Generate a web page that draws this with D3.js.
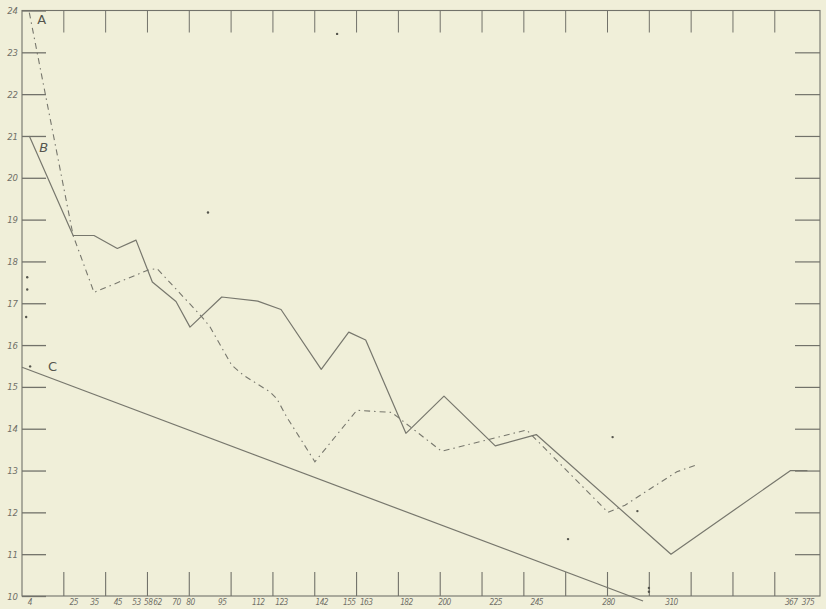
<!DOCTYPE html>
<html>
<head>
<meta charset="utf-8">
<script src="https://cdn.jsdelivr.net/npm/d3@7"></script>
<style>
  html, body { margin: 0; padding: 0; background: #f0efd9; }
  svg { display: block; }
  .tick text { font-family: "DejaVu Sans Condensed", "DejaVu Sans", sans-serif; font-style: italic; fill: #707068; }
</style>
</head>
<body>
<svg id="chart" width="826" height="609"></svg>
<script>
// ---- data ----
const yTickValues = [10, 11, 12, 13, 14, 15, 16, 17, 18, 19, 20, 21, 22, 23, 24];
const xTickValues = [4, 25, 35, 45, 53, 58, 62, 70, 80, 95, 112, 123, 142, 155, 163, 182, 200, 225, 245, 280, 310, 367, 375];
const xTickLabels = ["4", "25", "35", "45", "53", "58", "62", "70", "80", "95", "112", "123", "142", "155", "163", "182", "200", "225", "245", "280", "310", "367", "375"];

// curve B (solid)
const seriesBX = [4, 25, 35, 45, 53, 60, 70, 80, 95, 112, 123, 142, 155, 163, 182, 200, 225, 245, 310, 367, 375];
const seriesBY = [21.0, 18.62, 18.62, 18.31, 18.51, 17.51, 17.04, 16.43, 17.15, 17.05, 16.85, 15.42, 16.31, 16.12, 13.89, 14.78, 13.59, 13.86, 11.0, 13.0, 13.0];

// curve A (dash-dot)
const seriesAX = [4, 25, 35, 58, 62, 63.3, 85.5, 89.4, 99.7, 105.2, 117.8, 121, 125.7, 139, 158.8, 175.3, 198.9, 240.3, 249.2, 280, 288.1, 300, 312.8, 323.1];
const seriesAY = [23.95, 18.62, 17.26, 17.79, 17.83, 17.75, 16.68, 16.44, 15.52, 15.28, 14.88, 14.72, 14.28, 13.21, 14.44, 14.39, 13.46, 13.97, 13.53, 12.0, 12.17, 12.56, 12.97, 13.15];

// straight line C
const seriesCX = [0.5, 296.7];
const seriesCY = [15.47, 9.88];

// loose specks on the sheet
const speckX = [88.5, 3.0, 3.0, 2.5, 4.4, 260.5, 149.5, 299.5, 299.5, 282.2, 294];
const speckY = [19.17, 17.62, 17.33, 16.67, 15.49, 11.36, 23.44, 10.19, 10.1, 13.8, 12.03];

// ---- scales ----
const svg = d3.select("#chart");
const x = d3.scaleLinear()
  .domain([0.5, 35, 62, 70, 80, 200, 280, 381])
  .range([22, 94, 157, 176, 190, 444, 608, 820]);
const y = d3.scaleLinear().domain([10, 24]).range([596, 10.5]);

const ink = "#77776d";
const frameInk = "#72726a";

const x0 = x.range()[0], x1 = x.range()[x.range().length - 1];
const yTop = y(24), yBot = y(10);
const cell = y(10) - y(11);

// frame
svg.append("rect")
  .attr("x", x0).attr("y", yTop)
  .attr("width", x1 - x0).attr("height", yBot - yTop)
  .attr("fill", "none").attr("stroke", frameInk).attr("stroke-width", 1.1);

// paper grid tick marks along top and bottom edges
const gridX = d3.range(1, 19).map(i => x0 + i * cell);
svg.append("g").selectAll("line").data(gridX).join("line")
  .attr("x1", d => d).attr("x2", d => d)
  .attr("y1", yTop).attr("y2", yTop + 22)
  .attr("stroke", frameInk).attr("stroke-width", 1);
svg.append("g").selectAll("line").data(gridX).join("line")
  .attr("x1", d => d).attr("x2", d => d)
  .attr("y1", yBot).attr("y2", yBot - 24)
  .attr("stroke", frameInk).attr("stroke-width", 1.1);

// left axis: ticks pointing inward, labels outside
const yAxisL = svg.append("g")
  .attr("transform", `translate(${x0},0)`)
  .call(d3.axisLeft(y).tickValues(yTickValues).tickSizeInner(-24).tickSizeOuter(0).tickPadding(4));
yAxisL.select(".domain").remove();
yAxisL.selectAll(".tick line").attr("stroke", frameInk).attr("stroke-width", 1.3);
yAxisL.selectAll(".tick text").attr("font-size", 9.5);

// right axis ticks
const yAxisR = svg.append("g")
  .attr("transform", `translate(${x1},0)`)
  .call(d3.axisRight(y).tickValues(yTickValues.slice(1, -1)).tickSizeInner(-25).tickSizeOuter(0).tickFormat(""));
yAxisR.select(".domain").remove();
yAxisR.selectAll(".tick line").attr("stroke", frameInk).attr("stroke-width", 1.2);

// bottom axis labels
const xAxis = svg.append("g")
  .attr("transform", `translate(0,${yBot})`)
  .call(d3.axisBottom(x).tickValues(xTickValues).tickSize(0).tickPadding(3)
    .tickFormat((d, i) => xTickLabels[i]));
xAxis.select(".domain").remove();
xAxis.selectAll(".tick text").attr("font-size", 8.3).attr("letter-spacing", "-0.6px");

// curves
const line = d3.line().x(d => x(d[0])).y(d => y(d[1]));

svg.append("path")
  .datum(seriesBX.map((v, i) => [v, seriesBY[i]]))
  .attr("d", line).attr("fill", "none")
  .attr("stroke", ink).attr("stroke-width", 1.2).attr("stroke-linejoin", "round");

svg.append("path")
  .datum(seriesAX.map((v, i) => [v, seriesAY[i]]))
  .attr("d", line).attr("fill", "none")
  .attr("stroke", ink).attr("stroke-width", 1.1)
  .attr("stroke-dasharray", "6,4,1.5,4");

svg.append("path")
  .datum(seriesCX.map((v, i) => [v, seriesCY[i]]))
  .attr("d", line).attr("fill", "none")
  .attr("stroke", ink).attr("stroke-width", 1.2);

// specks
svg.append("g").selectAll("circle").data(speckX.map((v, i) => [v, speckY[i]])).join("circle")
  .attr("cx", d => x(d[0])).attr("cy", d => y(d[1])).attr("r", 1.2)
  .attr("fill", "#55554d");

// curve letters
const letter = (txt, px, py, italic) => svg.append("text")
  .attr("x", px).attr("y", py).text(txt)
  .attr("font-family", "DejaVu Sans, sans-serif")
  .attr("font-size", 13)
  .attr("font-style", italic ? "italic" : "normal")
  .attr("fill", "#55554d");
letter("A", x(seriesAX[0]) + 8, y(seriesAY[0]) + 11, false);
letter("B", x(seriesBX[0]) + 10, y(seriesBY[0]) + 16, true);
letter("C", x(seriesCX[0]) + 26, y(seriesCY[0]) + 4, false);
</script>
</body>
</html>
